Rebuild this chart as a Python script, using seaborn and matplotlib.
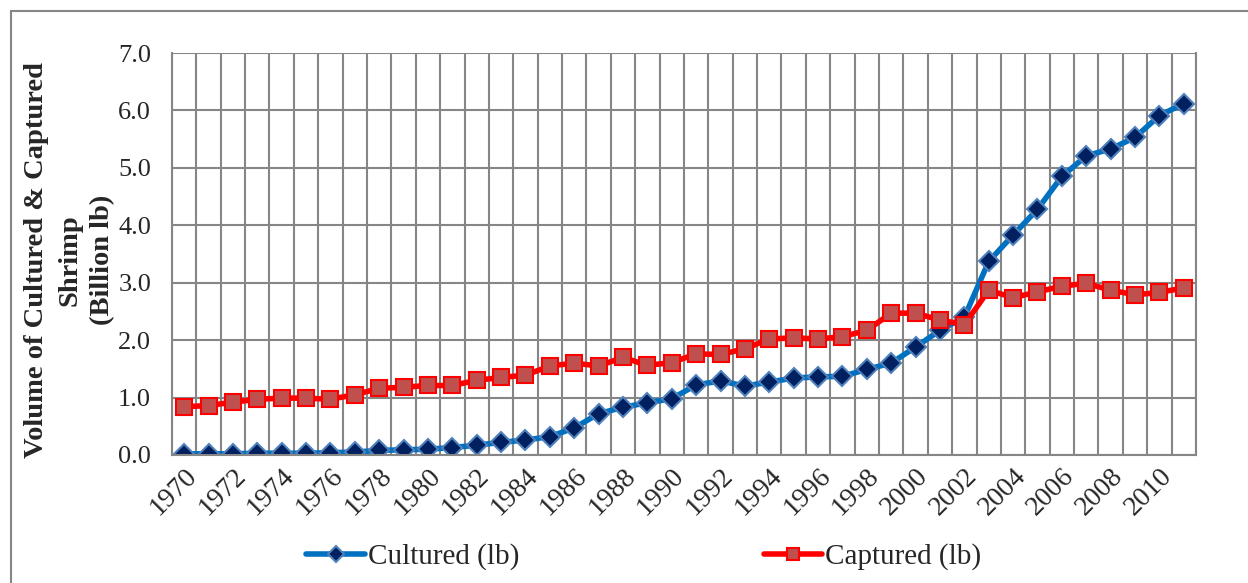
import matplotlib
matplotlib.use("Agg")
import matplotlib.pyplot as plt
import matplotlib.patches as mpatches
import numpy as np
import pandas as pd
import seaborn as sns

years = list(range(1970, 2012))

cultured = [0.02, 0.02, 0.02, 0.03, 0.03, 0.03, 0.04, 0.05, 0.08, 0.09,
            0.10, 0.13, 0.17, 0.22, 0.26, 0.32, 0.47, 0.72, 0.83, 0.91,
            0.98, 1.22, 1.29, 1.20, 1.27, 1.34, 1.36, 1.37, 1.49, 1.60,
            1.88, 2.17, 2.40, 3.37, 3.83, 4.28, 4.85, 5.21, 5.33, 5.53,
            5.91, 6.12]

captured = [0.84, 0.86, 0.92, 0.97, 0.99, 0.99, 0.97, 1.05, 1.16, 1.18,
            1.21, 1.21, 1.30, 1.35, 1.39, 1.55, 1.60, 1.55, 1.70, 1.56,
            1.61, 1.76, 1.75, 1.85, 2.02, 2.04, 2.02, 2.06, 2.17, 2.47,
            2.47, 2.35, 2.27, 2.87, 2.74, 2.84, 2.94, 2.99, 2.87, 2.79,
            2.83, 2.91]

df = pd.DataFrame({"Year": years, "Cultured (lb)": cultured, "Captured (lb)": captured})

sns.set_style("white")
plt.rcParams["font.family"] = ["Liberation Serif", "DejaVu Serif"]

fig = plt.figure(figsize=(12.48, 5.83), dpi=100)
ax = fig.add_axes([0.1378, 0.2196, 0.8205, 0.6894])

sns.lineplot(data=df, x="Year", y="Cultured (lb)", ax=ax, color="#0070C0", linewidth=4,
             marker="D", markersize=10, markerfacecolor="#002060",
             markeredgecolor="#4F81BD", markeredgewidth=1.5, label="Cultured (lb)")
sns.lineplot(data=df, x="Year", y="Captured (lb)", ax=ax, color="#FF0000", linewidth=4,
             marker="s", markersize=11, markerfacecolor="#C0504D",
             markeredgecolor="#FF0000", markeredgewidth=1.5, label="Captured (lb)")

ax.set_xlim(1969.5, 2011.5)
ax.set_ylim(0, 7)
yt = np.arange(0, 7.01, 1.0)
ax.set_yticks(yt)
ax.set_yticklabels([f"{v:.1f}" for v in yt], fontsize=19)
ax.set_xticks(range(1970, 2012, 2))
ax.set_xticklabels([str(y) for y in range(1970, 2012, 2)], fontsize=20,
                   rotation=45, ha="right", rotation_mode="anchor")
ax.set_xticks(np.arange(1969.5, 2012, 1), minor=True)
ax.tick_params(axis="y", which="both", length=0, pad=15)
ax.tick_params(axis="x", which="both", length=0, pad=6)
ax.grid(False)
ax.grid(True, axis="y", which="major", color="#868686", linewidth=1.5)
ax.grid(True, axis="x", which="minor", color="#868686", linewidth=1.5)
ax.set_axisbelow(True)
for s in ["left", "bottom", "right"]:
    ax.spines[s].set_color("#868686")
    ax.spines[s].set_linewidth(1.5)
ax.spines["top"].set_visible(False)

ax.set_xlabel("")
ax.set_ylabel("Volume of Cultured & Captured\nShrimp\n(Billion lb)", fontsize=20.5,
              fontweight="bold", linespacing=1.4, va="center")
ax.yaxis.set_label_coords(-0.1, 0.485)

ax.get_legend().remove()
handles, labels = ax.get_legend_handles_labels()
fig.legend(handles, labels, loc="center", bbox_to_anchor=(0.516, 0.045), ncol=2,
           frameon=False, fontsize=21, columnspacing=8.4, handlelength=2.0,
           handletextpad=0.1, markerscale=0.8)

fig.patches.append(mpatches.Rectangle((11 / 1248, -0.05), 1.0, 1.05 - 11 / 583,
                                      transform=fig.transFigure, fill=False,
                                      edgecolor="#868686", linewidth=1.5))

fig.savefig("out.png", dpi=100)
